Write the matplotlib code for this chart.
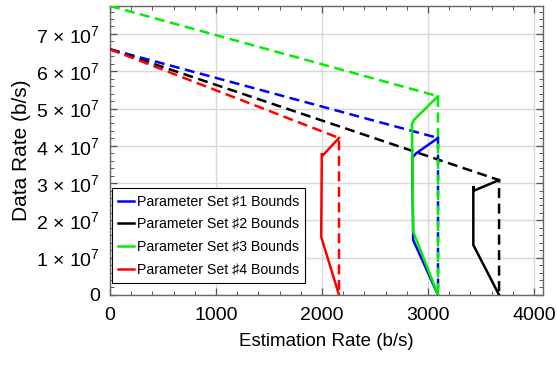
import matplotlib

matplotlib.use("Agg")
import matplotlib.pyplot as plt
from matplotlib.ticker import MultipleLocator, FuncFormatter

plt.rcParams["font.family"] = ["Liberation Sans", "DejaVu Sans"]
plt.rcParams["mathtext.default"] = "regular"

# 파라미터 세트별 한계선 (x: 추정률 b/s, y: 데이터율 b/s)
LABELS = ["Parameter Set \u266f1 Bounds", "Parameter Set \u266f2 Bounds",
          "Parameter Set \u266f3 Bounds", "Parameter Set \u266f4 Bounds"]
COLORS = ["#0000ff", "#000000", "#00ee00", "#ff0000"]

# 점선: (0, y0) -> (x_end, y_end) -> (x_end, 0)
Y0 = [6.59e7, 6.59e7, 7.75e7, 6.59e7]
X_END = [3094, 3670, 3094, 2160]
Y_END = [4.21e7, 3.08e7, 5.33e7, 4.21e7]

# 실선 경계
SOLID_X = [
    [3094, 2889, 2851, 2860, 3094],
    [3670, 3435, 3427, 3427, 3670],
    [3094, 2866, 2848, 2860, 3094],
    [2160, 2004, 1998, 1992, 2160],
]
SOLID_Y = [
    [4.21e7, 3.80e7, 3.69e7, 1.47e7, 0],
    [3.08e7, 2.80e7, 2.92e7, 1.34e7, 0],
    [5.33e7, 4.69e7, 4.58e7, 1.70e7, 0],
    [4.21e7, 3.73e7, 3.80e7, 1.56e7, 0],
]

XMAX, YMAX = 4085, 7.75e7


def yfmt(v, _):
    if abs(v) < 1:
        return "0"
    return f"{v / 1e7:.0f} \u00d7 10$^{{7}}$"


fig = plt.figure(figsize=(5.57, 3.65), dpi=100)
ax = fig.add_axes([0.1975, 0.192, 0.7775, 0.7916])

for i in range(4):
    ax.plot([0, X_END[i], X_END[i]], [Y0[i], Y_END[i], 0], color=COLORS[i],
            lw=1.8, dashes=(4, 2.2), zorder=3)
for i in range(4):
    ax.plot(SOLID_X[i], SOLID_Y[i], color=COLORS[i], lw=1.8, zorder=4,
            label=LABELS[i], solid_joinstyle="miter")

ax.set_xlim(0, XMAX)
ax.set_ylim(0, YMAX)
ax.xaxis.set_major_locator(MultipleLocator(1000))
ax.xaxis.set_minor_locator(MultipleLocator(200))
ax.yaxis.set_major_locator(MultipleLocator(1e7))
ax.yaxis.set_minor_locator(MultipleLocator(2e6))
ax.yaxis.set_major_formatter(FuncFormatter(yfmt))
ax.grid(True, which="major", color="#d8d8d8", lw=1.0, zorder=0)
ax.tick_params(which="both", direction="in", top=True, right=True,
               colors="#555555", labelcolor="black", labelsize=14)
ax.tick_params(which="major", length=5, width=0.9)
ax.tick_params(which="minor", length=3, width=0.7)
ax.tick_params(axis="x", which="major", pad=9)
ax.tick_params(axis="y", which="major", pad=7)
for s in ax.spines.values():
    s.set_color("#666666")
    s.set_linewidth(1.0)

ax.set_xlabel("Estimation Rate (b/s)", fontsize=13.5, labelpad=6)
ax.set_ylabel("Data Rate (b/s)", fontsize=15, labelpad=4)

leg = ax.legend(loc="lower left", bbox_to_anchor=(0.004, 0.04),
                borderaxespad=0, fontsize=10.2, handlelength=1.1,
                handletextpad=0.2, borderpad=0.45, labelspacing=0.62,
                fancybox=False, framealpha=1)
leg.get_frame().set_edgecolor("black")
leg.get_frame().set_linewidth(0.8)

fig.savefig("out.png", dpi=100)
